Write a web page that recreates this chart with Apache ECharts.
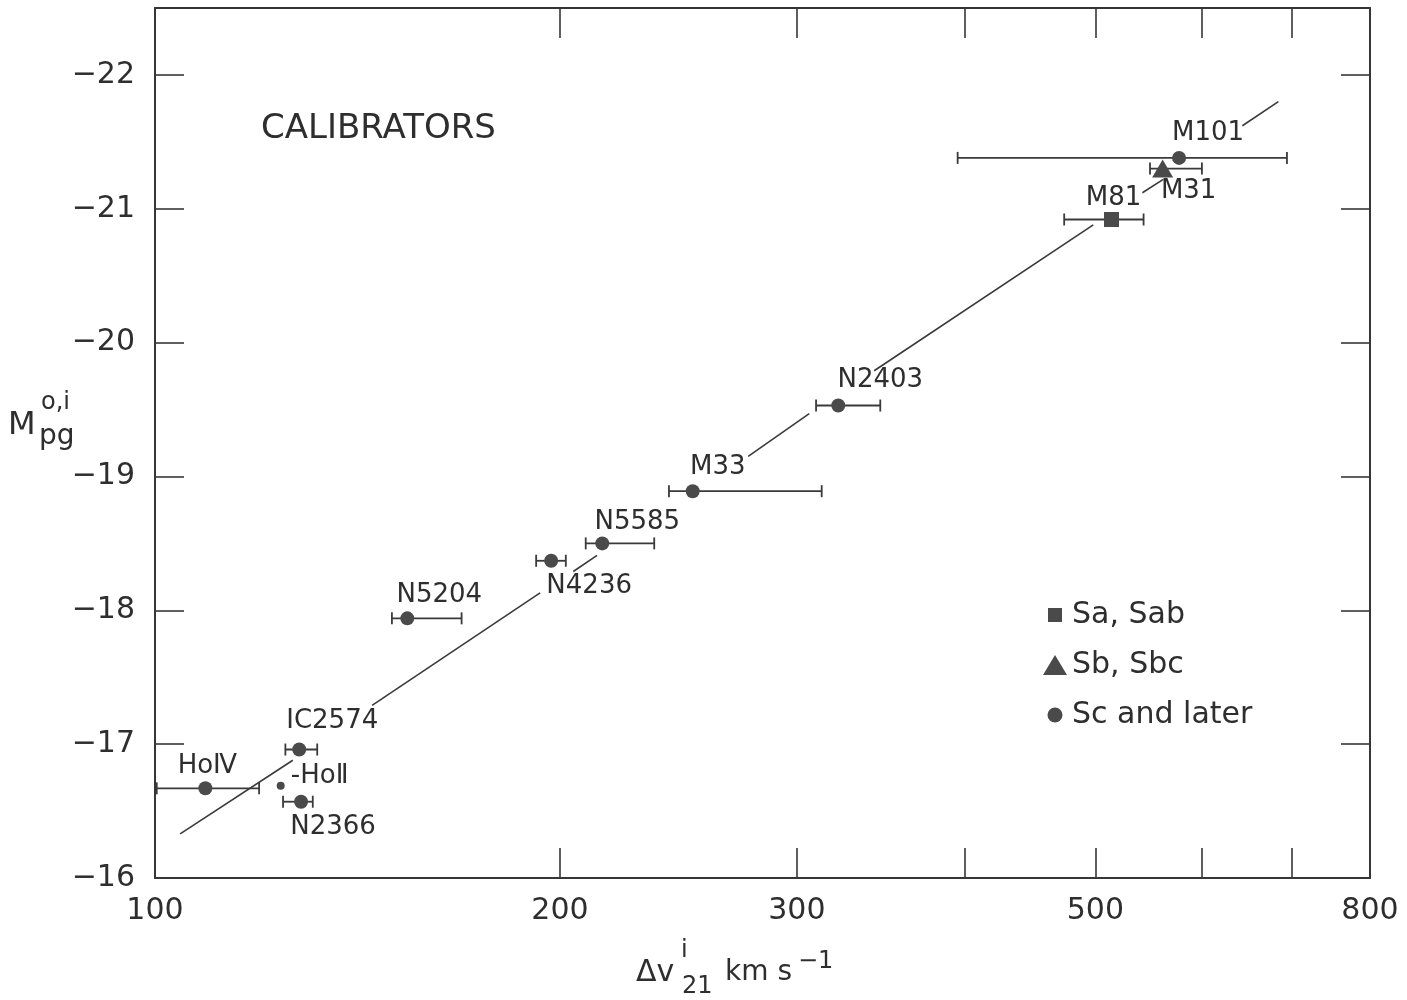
<!DOCTYPE html>
<html>
<head>
<meta charset="utf-8">
<script src="https://cdn.jsdelivr.net/npm/echarts@6/dist/echarts.min.js"></script>
<style>
html,body{margin:0;padding:0;background:#ffffff;}
#chart{width:1407px;height:1000px;}
</style>
</head>
<body>
<div id="chart"></div>
<script>
// ---- data ----
const galaxies = ['M101','M31','M81','N2403','M33','N5585','N4236','N5204','IC2574','HoIV','HoII','N2366'];
const morphType = ['Sc','Sb','Sa','Sc','Sc','Sc','Sc','Sc','Sc','Sc','Sc','Sc'];
const dv21 = [577, 561, 514, 322, 251, 215, 197, 154, 128, 109, 124, 128.4];
const mpg = [-21.38, -21.30, -20.92, -19.53, -18.89, -18.50, -18.37, -17.94, -16.96, -16.67, -16.69, -16.57];
const dvLow = [395, 549, 474, 310, 241, 209, 192, 150, 125, 100.3, null, 124.5];
const dvHigh = [694, 600, 543, 346, 313, 235, 202, 169, 132, 119.5, null, 131];
// calibration line, drawn in pieces (interrupted around labels)
const fitSegments = [
  [[104.4, -16.33], [126.6, -16.88]],
  [[145.0, -17.29], [193.3, -18.13]],
  [[204.6, -18.29], [213.1, -18.41]],
  [[276.0, -19.15], [306.4, -19.47]],
  [[342.4, -19.79], [498.2, -20.88]],
  [[541.9, -21.12], [561.6, -21.22]],
  [[643.0, -21.62], [683.9, -21.80]]
];
const typeNames = {Sa: 'Sa, Sab', Sb: 'Sb, Sbc', Sc: 'Sc and later'};
const xTickValues = [200, 300, 400, 500, 600, 700];
const xLabelValues = [100, 200, 300, 500, 800];
const yTickValues = [-22, -21, -20, -19, -18, -17];
const yLabelValues = [-22, -21, -20, -19, -18, -17, -16];

// ---- presentation (positions / styles) ----
const labelText = {HoIV: 'Ho\u2163', HoII: '-Ho\u2161'};
const labelOffset = {
  M101: [29, -25], M31: [26, 23], M81: [2, -21], N2403: [42, -25], M33: [25, -24],
  N5585: [35, -21], N4236: [38, 25], N5204: [32, -23], IC2574: [33, -28],
  HoIV: [2, -22], HoII: [39, -9], N2366: [32, 26]
};
const FONT = 'DejaVu Sans';
const INK = '#2e2e2e';
const MARK = '#4a4a4a';

function pointsOf(t) {
  const out = [];
  galaxies.forEach((g, i) => {
    if (morphType[i] !== t) return;
    const item = {
      name: g,
      value: [dv21[i], mpg[i]],
      label: {offset: labelOffset[g]}
    };
    if (g === 'HoII') item.symbolSize = 8;
    out.push(item);
  });
  return out;
}

const errData = [];
galaxies.forEach((g, i) => {
  if (dvLow[i] != null) errData.push({name: g, value: [dvLow[i], dvHigh[i], mpg[i]]});
});

const pointLabel = {
  show: true,
  position: 'inside',
  color: INK,
  fontFamily: FONT,
  fontSize: 26,
  formatter: p => labelText[p.name] || p.name
};
const markStyle = {color: MARK, opacity: 1};

const xAxisBase = {
  type: 'log',
  logBase: 10,
  min: 100,
  max: 800,
  splitLine: {show: false},
  minorTick: {show: false},
  axisLine: {show: true, onZero: false, lineStyle: {color: '#363636', width: 2}},
  axisTick: {show: true, inside: true, length: 30, customValues: xTickValues, lineStyle: {color: '#363636', width: 1.6}}
};
const yAxisBase = {
  type: 'value',
  inverse: true,
  min: -22.5,
  max: -16,
  splitLine: {show: false},
  axisLine: {show: true, onZero: false, lineStyle: {color: '#363636', width: 2}},
  axisTick: {show: true, inside: true, length: 29, customValues: yTickValues, lineStyle: {color: '#363636', width: 1.6}}
};

const chart = echarts.init(document.getElementById('chart'));
chart.setOption({
  backgroundColor: '#ffffff',
  animation: false,
  title: {
    text: 'CALIBRATORS',
    left: 261,
    top: 112,
    padding: 0,
    textStyle: {fontFamily: FONT, fontSize: 34, fontWeight: 'normal', color: INK, lineHeight: 34}
  },
  grid: {left: 155, right: 37, top: 8, bottom: 122, containLabel: false},
  legend: {
    orient: 'vertical',
    left: 1043,
    top: 600,
    padding: 0,
    itemWidth: 24,
    itemHeight: 20,
    itemGap: 20,
    selectedMode: false,
    textStyle: {fontFamily: FONT, fontSize: 30, color: INK},
    data: [
      {name: typeNames.Sa, icon: 'path://M0,0M24,20M5,3H19V17H5Z'},
      {name: typeNames.Sb, icon: 'path://M0,20L12,0L24,20Z'},
      {name: typeNames.Sc, icon: 'path://M0,0M24,20M4.5,10A7.5,7.5 0 1 1 19.5,10A7.5,7.5 0 1 1 4.5,10Z'}
    ]
  },
  xAxis: [
    Object.assign({}, xAxisBase, {
      position: 'bottom',
      axisLabel: {show: true, customValues: xLabelValues, margin: 18, fontFamily: FONT, fontSize: 30, color: INK}
    }),
    Object.assign({}, xAxisBase, {position: 'top', axisLabel: {show: false}})
  ],
  yAxis: [
    Object.assign({}, yAxisBase, {
      position: 'left',
      axisLabel: {
        show: true, customValues: yLabelValues, margin: 20, fontFamily: FONT, fontSize: 30, color: INK,
        formatter: v => '\u2212' + Math.abs(v)
      }
    }),
    Object.assign({}, yAxisBase, {position: 'right', axisLabel: {show: false}})
  ],
  graphic: [
    {type: 'text', left: 8, top: 410, style: {text: 'M', font: '32px "DejaVu Sans"', fill: INK}},
    {type: 'text', left: 41, top: 391, style: {text: 'o,i', font: '24px "DejaVu Sans"', fill: INK}},
    {type: 'text', left: 39, top: 423, style: {text: 'pg', font: '28px "DejaVu Sans"', fill: INK}},
    {type: 'text', left: 636, top: 958, style: {text: '\u0394v', font: '30px "DejaVu Sans"', fill: INK}},
    {type: 'text', left: 681, top: 939, style: {text: 'i', font: '24px "DejaVu Sans"', fill: INK}},
    {type: 'text', left: 682, top: 975, style: {text: '21', font: '24px "DejaVu Sans"', fill: INK}},
    {type: 'text', left: 725, top: 959, style: {text: 'km s', font: '28px "DejaVu Sans"', fill: INK}},
    {type: 'text', left: 798, top: 950, style: {text: '\u22121', font: '24px "DejaVu Sans"', fill: INK}}
  ],
  series: [
    {
      type: 'lines',
      coordinateSystem: 'cartesian2d',
      polyline: false,
      silent: true,
      z: 1,
      lineStyle: {color: '#3a3a3a', width: 1.6, opacity: 1},
      data: fitSegments.map(s => ({coords: s}))
    },
    {
      type: 'custom',
      name: 'errors',
      z: 2,
      silent: true,
      encode: {x: [0, 1], y: 2},
      data: errData,
      renderItem: (params, api) => {
        const lo = api.coord([api.value(0), api.value(2)]);
        const hi = api.coord([api.value(1), api.value(2)]);
        const h = 6;
        const style = {stroke: '#3a3a3a', lineWidth: 1.8, fill: null};
        return {
          type: 'group',
          children: [
            {type: 'line', shape: {x1: lo[0], y1: lo[1], x2: hi[0], y2: hi[1]}, style: style},
            {type: 'line', shape: {x1: lo[0], y1: lo[1] - h, x2: lo[0], y2: lo[1] + h}, style: style},
            {type: 'line', shape: {x1: hi[0], y1: hi[1] - h, x2: hi[0], y2: hi[1] + h}, style: style}
          ]
        };
      }
    },
    {
      type: 'scatter', name: typeNames.Sa, symbol: 'rect', symbolSize: 15, z: 3,
      itemStyle: markStyle, label: pointLabel, data: pointsOf('Sa')
    },
    {
      type: 'scatter', name: typeNames.Sb, symbol: 'triangle', symbolSize: [21, 18], z: 3,
      itemStyle: markStyle, label: pointLabel, data: pointsOf('Sb')
    },
    {
      type: 'scatter', name: typeNames.Sc, symbol: 'circle', symbolSize: 14, z: 3,
      itemStyle: markStyle, label: pointLabel, data: pointsOf('Sc')
    }
  ]
});
</script>
</body>
</html>
